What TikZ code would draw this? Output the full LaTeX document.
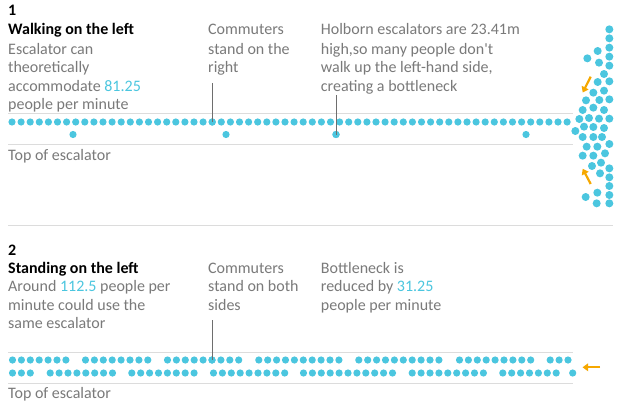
\documentclass[tikz,border=0pt]{standalone}
\usepackage{fontspec}
\setmainfont{Carlito}[Ligatures=TeXOff]
\usetikzlibrary{arrows.meta}
\definecolor{dotblue}{HTML}{4BC6DF}
\definecolor{txtgray}{HTML}{7A7A7A}
\definecolor{rulegray}{HTML}{DCDCDC}
\definecolor{arrorange}{HTML}{F6A800}
\definecolor{ptrgray}{HTML}{6E6E6E}
\begin{document}
\begin{tikzpicture}[x=1pt,y=-1pt,
  txt/.style={anchor=base west,inner sep=0pt,text=txtgray,font=\fontsize{16}{18}\selectfont},
  head/.style={anchor=base west,inner sep=0pt,text=black,font=\fontsize{16}{18}\selectfont\bfseries},
  dotn/.style={circle,fill=dotblue,inner sep=0pt,minimum size=7.2pt},
  rule/.style={draw=rulegray,line width=1pt},
  ptr/.style={draw=ptrgray,line width=0.9pt},
  orarrow/.style={draw=arrorange,line width=2.2pt,-{Triangle[length=5.5pt,width=7.5pt]}}]
\useasboundingbox (0,0) rectangle (618,404);
\fill[white] (0,0) rectangle (618,404);

% ---------- Panel 1 ----------
\node[head] (n1) at (8,16) {1};
\node[head] (h1) at (8,35) {Walking on the left};
\node[txt] (a1) at (8,54.3) {Escalator can};
\node[txt] (a2) at (8,72.7) {theoretically};
\node[txt] (a3) at (8,91) {accommodate \textcolor{dotblue}{81.25}};
\node[txt] (a4) at (8,109.3) {people per minute};
\node[txt] (b1) at (208,35) {Commuters};
\node[txt] (b2) at (208,54.3) {stand on the};
\node[txt] (b3) at (208,72.7) {right};
\node[txt] (c1) at (320.7,35) {Holborn escalators are 23.41m};
\node[txt] (c2) at (320.7,54.3) {high,so many people don't};
\node[txt] (c3) at (320.7,72.7) {walk up the left-hand side,};
\node[txt] (c4) at (320.7,91) {creating a bottleneck};
\node[txt] (t1) at (8,160) {Top of escalator};

\coordinate (r1a) at (8,113.3); \coordinate (r1b) at (573,113.3);
\coordinate (r2a) at (8,144.3); \coordinate (r2b) at (573,144.3);
\draw[rule] (r1a) -- (r1b);
\draw[rule] (r2a) -- (r2b);

\foreach \i in {0,...,61} \fill[dotblue] ({12+9.1*\i},122) circle[radius=3.6];
\foreach \xx in {73,226,336,526} \fill[dotblue] (\xx,134.5) circle[radius=3.6];

% crowd
\foreach \a/\b in {928/88,928/115,893/153,928/143,862/175,897/188,928/170,928/197,912/222,893/246,928/244,880/278,912/272,858/301,898/300,928/298,848/330,880/323,912/330,838/357,867/354,897/356,928/356,826/393,852/380,880/381,912/384,848/411,880/411,906/411,928/432,860/440,892/440,848/467,880/467,915/460,876/498,903/488,900/520,928/505,928/532,928/558,892/578,928/585,857/591,890/610,928/610}
  \fill[dotblue] ({300+\a/3},{\b/3}) circle[radius=4];

\coordinate (o1s) at (590.7,76.7); \coordinate (o1e) at (582.7,92.5);
\coordinate (o2s) at (590.7,184); \coordinate (o2e) at (582.7,168.8);
\draw[orarrow] (o1s) -- (o1e);
\draw[orarrow] (o2s) -- (o2e);

\node[dotn] (p1) at (212.2,122) {};
\node[dotn] (p2) at (336,134.5) {};
\coordinate (q1) at (212.2,83.3);
\coordinate (q2) at (336,95);
\draw[ptr] (q1) -- (p1.center);
\draw[ptr] (q2) -- (p2.center);

% separator
\coordinate (sa) at (8,225); \coordinate (sb) at (613,225);
\draw[rule] (sa) -- (sb);

% ---------- Panel 2 ----------
\node[head] (n2) at (8,255) {2};
\node[head] (h2) at (8,273.3) {Standing on the left};
\node[txt] (d1) at (8,291.7) {Around \textcolor{dotblue}{112.5} people per};
\node[txt] (d2) at (8,310) {minute could use the};
\node[txt] (d3) at (8,328.3) {same escalator};
\node[txt] (e1) at (208,273.3) {Commuters};
\node[txt] (e2) at (208,291.7) {stand on both};
\node[txt] (e3) at (208,310) {sides};
\node[txt] (f1) at (320.7,273.3) {Bottleneck is};
\node[txt] (f2) at (320.7,291.7) {reduced by \textcolor{dotblue}{31.25}};
\node[txt] (f3) at (320.7,310) {people per minute};
\node[txt] (t2) at (8,398.3) {Top of escalator};

\coordinate (r3a) at (8,352.7); \coordinate (r3b) at (573,352.7);
\coordinate (r4a) at (8,383.3); \coordinate (r4b) at (573,383.3);
\draw[rule] (r3a) -- (r3b);
\draw[rule] (r4a) -- (r4b);

\foreach \s/\n in {12.5/7,85.5/8,167.5/9,258.8/10,358.8/10,459.5/9,550.2/3}
  \foreach \i in {1,...,\n} \fill[dotblue] ({\s+8.9*(\i-1)},360) circle[radius=3.6];
\foreach \s/\n in {12.5/3,50.2/8,131.8/8,213.5/9,303.5/11,412.2/9,502.8/7,572.7/1}
  \foreach \i in {1,...,\n} \fill[dotblue] ({\s+8.9*(\i-1)},373) circle[radius=3.6];

\coordinate (o3s) at (600,367.3); \coordinate (o3e) at (582.5,367.3);
\draw[orarrow] (o3s) -- (o3e);

\node[dotn] (p3) at (212,360) {};
\coordinate (q3) at (212,320);
\draw[ptr] (q3) -- (p3.center);
\end{tikzpicture}
\end{document}
